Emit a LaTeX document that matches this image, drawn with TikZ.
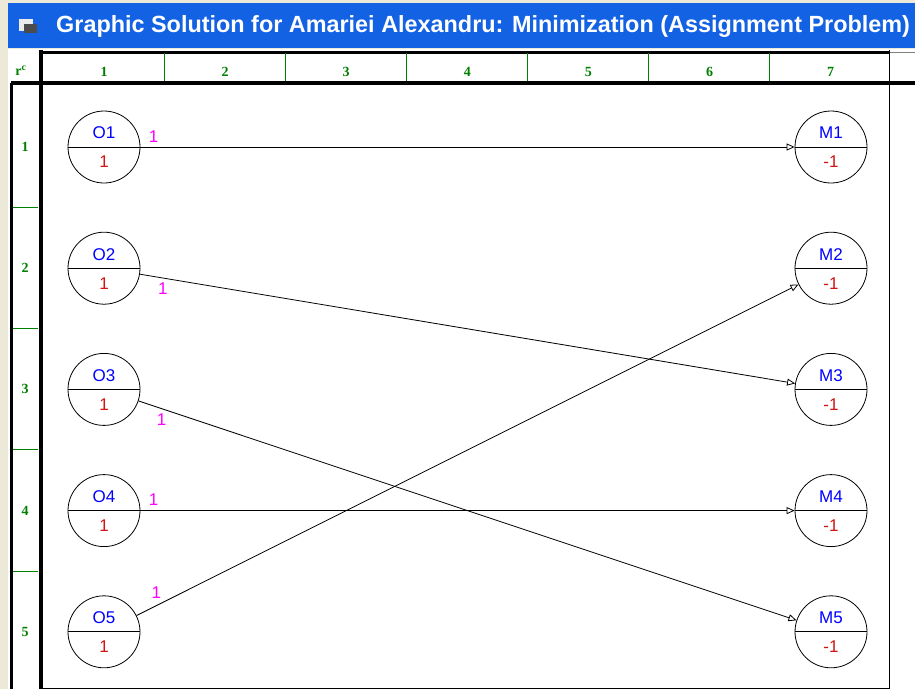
\documentclass[tikz,border=0pt]{standalone}
\usepackage{fontspec}
\setmainfont{Liberation Sans}
\newfontfamily\gridfont{Liberation Serif}
\usetikzlibrary{arrows.meta}

\definecolor{titleblue}{RGB}{20,98,228}
\definecolor{gridgreen}{RGB}{0,128,0}
\definecolor{winface}{RGB}{236,233,216}
\definecolor{valred}{RGB}{210,20,20}
\definecolor{wmagenta}{RGB}{255,0,255}

\begin{document}
\begin{tikzpicture}[x=1pt,y=-1pt,
    place/.style={circle,draw,line width=0.8pt,minimum size=72pt,inner sep=0pt},
    toptext/.style={blue,inner sep=0pt,font=\fontsize{17}{17}\selectfont},
    bottext/.style={valred,inner sep=0pt,font=\fontsize{17}{17}\selectfont},
    weight/.style={wmagenta,font=\fontsize{17}{17}\selectfont},
    flow/.style={-{Triangle[open,length=8pt,width=7pt]},line width=0.8pt},
    gridnum/.style={gridgreen,font=\gridfont\bfseries\fontsize{14}{14}\selectfont}
    ]

    \useasboundingbox (0,0) rectangle (915,689);

    % window frame and title bar
    \fill[winface] (0,0) rectangle (915,689);
    \fill[white] (8,49) rectangle (915,689);
    \fill[titleblue] (8,3) rectangle (915,48);
    \fill[white!85!gray] (19,19) rectangle (33,31);
    \fill[black!70] (24,24) rectangle (37,33);
    \node (title) [anchor=west,white,inner sep=0pt,
      font=\bfseries\fontsize{23.4}{23.4}\selectfont] at (56,26)
      {Graphic Solution for Amariei Alexandru: Minimization (Assignment Problem)};

    % grid
    \draw[line width=3pt] (40,52) -- (889,52);
    \draw[gray] (889,52) -- (915,52);
    \draw[line width=4pt] (11,83) -- (915,83);
    \draw[line width=4pt] (40.5,50) -- (40.5,689);
    \draw[line width=3pt] (11.5,83) -- (11.5,689);
    \draw[thick] (889,50) -- (889,689);
    \draw[thick] (40,688) -- (889,688);

    \node (rc) [gridnum] at (21,71) {r\textsuperscript{c}};

    \foreach \k in {1,...,6}
      \draw[gridgreen] (43 + \k * 121.1,53) -- (43 + \k * 121.1,81);
    \foreach \k in {1,...,7}
      \node (col\k) [gridnum] at (104 + \k * 121.1 - 121.1,72) {\k};

    \foreach \k in {1,...,4}
      \draw[gridgreen] (13,86 + \k * 121.2) -- (38,86 + \k * 121.2);
    \foreach \k in {1,...,5}
      \node (row\k) [gridnum] at (25,147 + \k * 121.2 - 121.2) {\k};

    % sources and destinations
    \foreach \i in {1,...,5}
      {\node (o\i) [place] at (104,147 + \i * 121.2 - 121.2) {};
        \draw[line width=0.8pt] (o\i.west) -- (o\i.east);
        \node [toptext] at ([yshift=14pt]o\i.center) {O\i};
        \node [bottext] at ([yshift=-15pt]o\i.center) {1};
        \node (m\i) [place] at (831,147 + \i * 121.2 - 121.2) {};
        \draw[line width=0.8pt] (m\i.west) -- (m\i.east);
        \node [toptext] at ([yshift=14pt]m\i.center) {M\i};
        \node [bottext] at ([yshift=-15pt]m\i.center) {-1};
      }

    % assignment
    \draw[flow] (o1) -- (m1) node [weight,pos=0.02,above=1pt] {1};
    \draw[flow] (o2) -- (m3) node [weight,pos=0.035,below=1pt] {1};
    \draw[flow] (o3) -- (m5) node [weight,pos=0.035,below=1pt] {1};
    \draw[flow] (o4) -- (m4) node [weight,pos=0.02,above=1pt] {1};
    \draw[flow] (o5) -- (m2) node [weight,pos=0.03,above=3pt] {1};

  \end{tikzpicture}
\end{document}
